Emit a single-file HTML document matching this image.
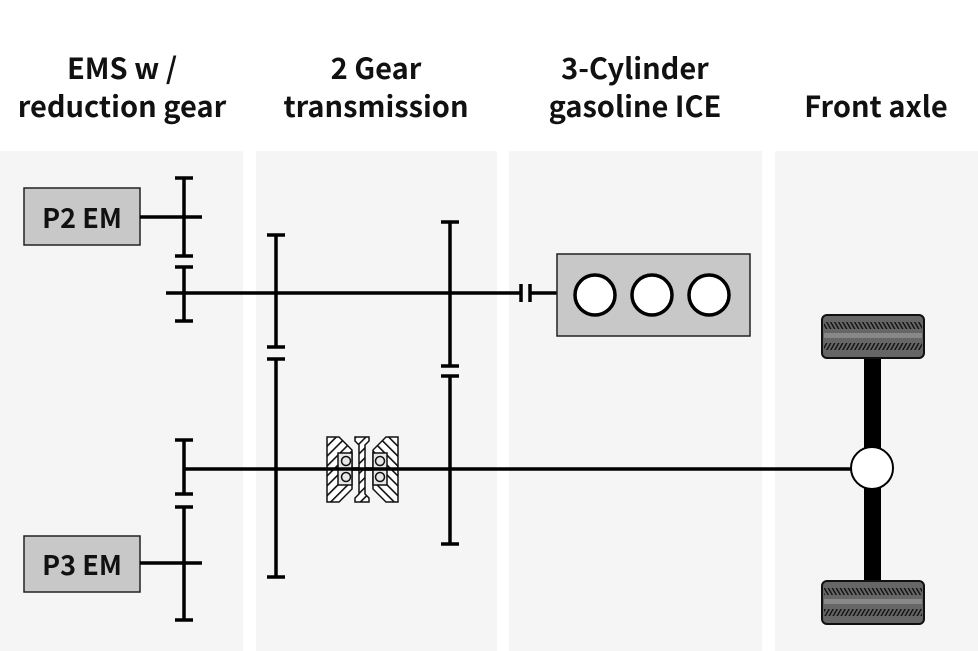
<!DOCTYPE html>
<html><head><meta charset="utf-8"><style>
body{margin:0;background:#fff;}
svg{display:block}
text{font-family:"Noto Sans CJK JP","Liberation Sans",sans-serif;font-weight:700;fill:#111}
</style></head><body>
<svg width="978" height="651" viewBox="0 0 978 651" xmlns="http://www.w3.org/2000/svg">
<defs>
<pattern id="h" width="7" height="7" patternUnits="userSpaceOnUse" patternTransform="rotate(45)">
<rect width="7" height="7" fill="#fff"/><rect width="1.6" height="7" fill="#111"/></pattern>
<pattern id="h2" width="7" height="7" patternUnits="userSpaceOnUse" patternTransform="rotate(-45)">
<rect width="7" height="7" fill="#fff"/><rect width="1.6" height="7" fill="#111"/></pattern>
<pattern id="t1" width="4" height="8" patternUnits="userSpaceOnUse" patternTransform="skewX(30)">
<rect width="4" height="8" fill="#666"/><rect width="1.6" height="8" fill="#111"/></pattern>
<pattern id="t2" width="4" height="8" patternUnits="userSpaceOnUse" patternTransform="skewX(-30)">
<rect width="4" height="8" fill="#666"/><rect width="1.6" height="8" fill="#111"/></pattern>
</defs>
<rect x="0" y="151" width="243" height="500" fill="#f5f5f5"/>
<rect x="256" y="151" width="241" height="500" fill="#f5f5f5"/>
<rect x="509" y="151" width="253" height="500" fill="#f5f5f5"/>
<rect x="775" y="151" width="203" height="500" fill="#f5f5f5"/>

<g font-size="29" text-anchor="middle">
<text x="122" y="79">EMS w /</text><text x="122" y="117">reduction gear</text>
<text x="376" y="79">2 Gear</text><text x="376" y="117">transmission</text>
<text x="635" y="79">3-Cylinder</text><text x="635" y="117">gasoline ICE</text>
<text x="876" y="117">Front axle</text>
</g>

<rect x="24" y="188" width="116" height="57" fill="#c8c8c8" stroke="#222" stroke-width="1.5"/>
<text x="82" y="228" font-size="27" text-anchor="middle">P2 EM</text>
<rect x="24" y="536" width="116" height="56" fill="#c8c8c8" stroke="#222" stroke-width="1.5"/>
<text x="82" y="575" font-size="27" text-anchor="middle">P3 EM</text>

<g stroke="#000" stroke-width="3.5" fill="none">
<line x1="140" y1="217" x2="202" y2="217"/>
<line x1="140" y1="563" x2="202" y2="563"/>
<line x1="166" y1="293" x2="521" y2="293"/>
<line x1="530" y1="293" x2="557" y2="293"/>
<line x1="184" y1="469" x2="860" y2="469"/>
<path d="M184 178V256M175 178H193M175 256H193"/>
<path d="M184 267V321M175 267H193M175 321H193"/>
<path d="M184 440V494M175 440H193M175 494H193"/>
<path d="M184 507V620M175 507H193M175 620H193"/>
<path d="M276 235V347M267 235H285M267 347H285"/>
<path d="M276 359V577M267 359H285M267 577H285"/>
<path d="M450 222V366M441 222H459M441 366H459"/>
<path d="M450 376V544M441 376H459M441 544H459"/>
<path d="M521 284V302M530 284V302"/>
</g>

<g stroke="#111" stroke-width="1.5">
<polygon points="327,437 339,437 352,450 352,489 339,502 327,502" fill="url(#h)"/>
<rect x="338" y="453" width="14" height="32" fill="#e8e8e8"/>
<circle cx="346" cy="461" r="4.5" fill="#e8e8e8"/><circle cx="346" cy="477" r="4.5" fill="#e8e8e8"/>
<polygon points="398,437 386,437 373,450 373,489 386,502 398,502" fill="url(#h2)"/>
<rect x="373" y="453" width="14" height="32" fill="#e8e8e8"/>
<circle cx="380" cy="461" r="4.5" fill="#e8e8e8"/><circle cx="380" cy="477" r="4.5" fill="#e8e8e8"/>
<polygon points="355,437 369,437 369,441 365,445 365,494 369,498 369,502 355,502 355,498 359,494 359,445 355,441" fill="url(#h)"/>
</g>
<line x1="327" y1="469" x2="398" y2="469" stroke="#000" stroke-width="3.5"/>

<rect x="557" y="254" width="193" height="82" fill="#c8c8c8" stroke="#222" stroke-width="1.5"/>
<g fill="#fff" stroke="#000" stroke-width="3.5">
<circle cx="595" cy="295" r="20"/><circle cx="652" cy="295" r="20"/><circle cx="709" cy="295" r="20"/>
</g>

<rect x="864" y="356" width="17" height="226" fill="#000"/>
<g>
<rect x="822" y="315" width="102" height="43" rx="5" fill="#666" stroke="#111" stroke-width="2"/>
<rect x="824" y="322" width="98" height="7" fill="url(#t1)"/>
<rect x="824" y="333" width="98" height="5" fill="#888"/>
<rect x="824" y="343" width="98" height="7" fill="url(#t2)"/>
<rect x="822" y="581" width="102" height="43" rx="5" fill="#666" stroke="#111" stroke-width="2"/>
<rect x="824" y="588" width="98" height="7" fill="url(#t1)"/>
<rect x="824" y="599" width="98" height="5" fill="#888"/>
<rect x="824" y="609" width="98" height="7" fill="url(#t2)"/>
</g>
<circle cx="872" cy="468" r="21" fill="#fff" stroke="#000" stroke-width="2"/>
</svg>
</body></html>
